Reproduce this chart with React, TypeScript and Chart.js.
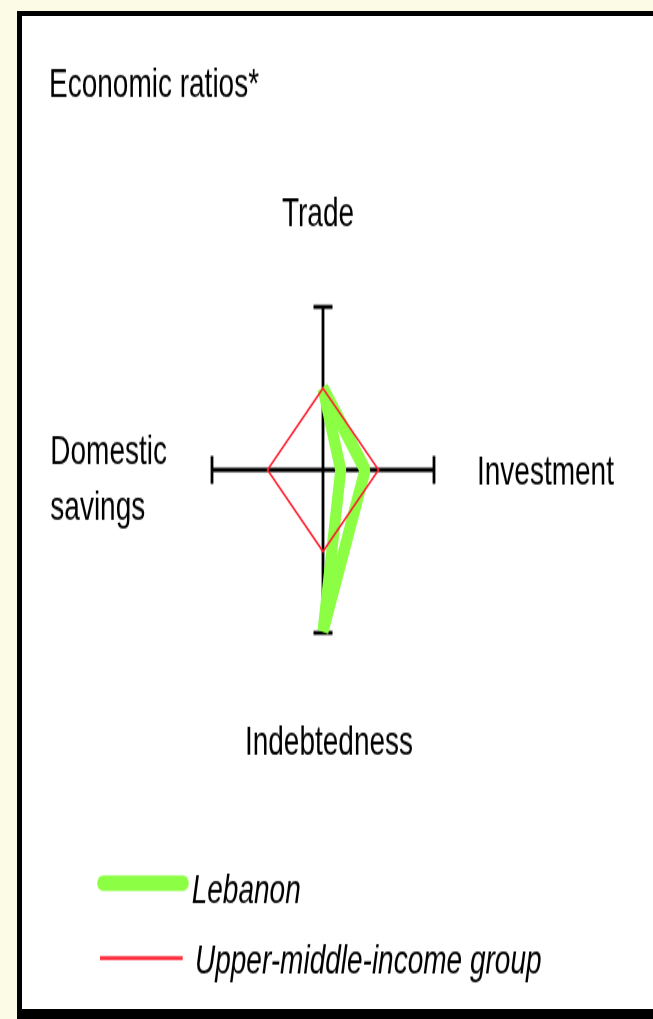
import React, { useEffect, useRef } from 'react';
import { Chart, registerables } from 'chart.js';

Chart.register(...registerables);

// ---------- data ----------
const TITLE = 'Economic ratios*';
const AXIS_LABELS: string[][] = [['Trade'], ['Investment'], ['Indebtedness'], ['Domestic', 'savings']];
const AXIS_MIN = 0;
const AXIS_MAX = 1;
const LEBANON = [0.5, 0.38, 0.99, -0.16];
const UPPER_MIDDLE_INCOME = [0.5, 0.5, 0.5, 0.5];
const SERIES_NAMES = ['Lebanon', 'Upper-middle-income group'];

// ---------- style ----------
const GREEN = '#8CFF44';
const RED = '#FF2030';
const CREAM = '#FCFCE6';
const W = 653;
const H = 694;
const PAGE_H = 1019;
const SY = PAGE_H / H;
const FONT = '"Liberation Sans", Arial, Helvetica, sans-serif';
const FONT_SIZE = 28;
const AXIS_WIDTH = 2.8;
const END_TICK = 19;

const LABEL_PLACEMENT = [
  { dx: -5, dy: -55, align: 'center' },
  { dx: 43, dy: 10, align: 'left' },
  { dx: 6, dy: 83, align: 'center' },
  { dx: -45, dy: -4.5, align: 'right' },
];
const LABEL_LINE_HEIGHT = 38.6;

const decor = {
  id: 'decor',
  beforeDatasetsDraw(chart: any) {
    const s = chart.scales.r;
    const ctx = chart.ctx as CanvasRenderingContext2D;
    ctx.save();
    ctx.strokeStyle = '#000';
    ctx.lineWidth = AXIS_WIDTH;
    for (let i = 0; i < AXIS_LABELS.length; i++) {
      const p = s.getPointPositionForValue(i, AXIS_MAX);
      const nx = -Math.sin(p.angle);
      const ny = Math.cos(p.angle);
      ctx.beginPath();
      ctx.moveTo(p.x - nx * END_TICK / 2, p.y - ny * END_TICK / 2);
      ctx.lineTo(p.x + nx * END_TICK / 2, p.y + ny * END_TICK / 2);
      ctx.stroke();
    }
    ctx.restore();
  },
  afterDraw(chart: any) {
    const s = chart.scales.r;
    const ctx = chart.ctx as CanvasRenderingContext2D;
    ctx.save();
    ctx.fillStyle = '#000';
    ctx.textBaseline = 'alphabetic';
    ctx.font = `normal ${FONT_SIZE}px ${FONT}`;
    // title
    ctx.textAlign = 'left';
    ctx.fillText(TITLE, 49, 66.3);
    // axis labels
    const labels = chart.data.labels as string[][];
    labels.forEach((lines, i) => {
      const p = s.getPointPositionForValue(i, AXIS_MAX);
      const pl = LABEL_PLACEMENT[i];
      const x = p.x + pl.dx;
      const y = p.y + pl.dy;
      if (pl.align === 'right') {
        const maxW = Math.max(...lines.map((l) => ctx.measureText(l).width));
        ctx.textAlign = 'left';
        lines.forEach((l, k) => ctx.fillText(l, x - maxW, y + k * LABEL_LINE_HEIGHT));
      } else {
        ctx.textAlign = pl.align as CanvasTextAlign;
        lines.forEach((l, k) => ctx.fillText(l, x, y + k * LABEL_LINE_HEIGHT));
      }
    });
    // legend
    ctx.lineCap = 'round';
    ctx.strokeStyle = GREEN;
    ctx.lineWidth = 10.5;
    ctx.beginPath();
    ctx.moveTo(102.5, 601.4);
    ctx.lineTo(183.5, 601.4);
    ctx.stroke();
    ctx.lineCap = 'butt';
    ctx.strokeStyle = RED;
    ctx.lineWidth = 2.7;
    ctx.beginPath();
    ctx.moveTo(100, 652.5);
    ctx.lineTo(182.7, 652.5);
    ctx.stroke();
    ctx.font = `italic ${FONT_SIZE}px ${FONT}`;
    ctx.textAlign = 'left';
    ctx.fillText(SERIES_NAMES[0], 191.7, 614.8);
    ctx.fillText(SERIES_NAMES[1], 195, 662.7);
    ctx.restore();
  },
};

export default function App() {
  const canvasRef = useRef<HTMLCanvasElement | null>(null);

  useEffect(() => {
    if (!canvasRef.current) return;
    const chart = new Chart(canvasRef.current, {
      type: 'radar',
      data: {
        labels: AXIS_LABELS as any,
        datasets: [
          {
            label: SERIES_NAMES[0],
            data: LEBANON,
            borderColor: GREEN,
            backgroundColor: 'transparent',
            borderWidth: 11,
            borderJoinStyle: 'bevel',
            fill: false,
            pointRadius: 0,
            order: 2,
            clip: false as any,
          },
          {
            label: SERIES_NAMES[1],
            data: UPPER_MIDDLE_INCOME,
            borderColor: RED,
            backgroundColor: 'transparent',
            borderWidth: 1.6,
            fill: false,
            pointRadius: 0,
            order: 1,
            clip: false as any,
          },
        ],
      },
      options: {
        responsive: false,
        animation: false,
        devicePixelRatio: 1,
        layout: { padding: { left: 212, right: 219, top: 209, bottom: 263 } },
        plugins: {
          legend: { display: false },
          title: { display: false },
          tooltip: { enabled: false },
        },
        elements: { line: { tension: 0 }, point: { radius: 0 } },
        scales: {
          r: {
            min: AXIS_MIN,
            max: AXIS_MAX,
            ticks: { display: false },
            grid: { display: false },
            angleLines: { display: true, color: '#000', lineWidth: AXIS_WIDTH },
            pointLabels: { display: false },
          },
        },
      },
      plugins: [decor],
    });
    return () => chart.destroy();
  }, []);

  return (
    <div
      style={{
        position: 'fixed',
        left: 0,
        top: 0,
        width: W,
        height: PAGE_H,
        background: CREAM,
        overflow: 'hidden',
      }}
    >
      <div
        style={{
          position: 'absolute',
          left: 17,
          top: 11,
          width: W,
          height: PAGE_H - 11,
          boxSizing: 'border-box',
          background: '#fff',
          borderLeft: '5px solid #000',
          borderTop: '5px solid #000',
          borderBottom: '10px solid #000',
        }}
      />
      <div
        style={{
          position: 'absolute',
          left: 0,
          top: 0,
          width: W,
          height: H,
          transform: `scale(1, ${SY})`,
          transformOrigin: '0 0',
        }}
      >
        <canvas ref={canvasRef} width={W} height={H} style={{ display: 'block', width: W, height: H }} />
      </div>
    </div>
  );
}
